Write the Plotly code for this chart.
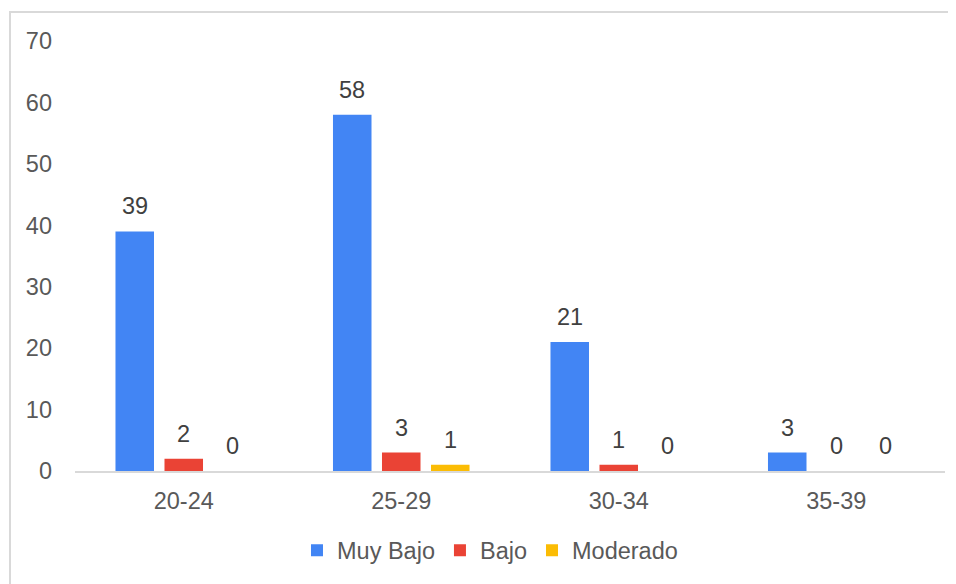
import plotly.graph_objects as go

categories = ["20-24", "25-29", "30-34", "35-39"]
muy_bajo = [39, 58, 21, 3]
bajo = [2, 3, 1, 0]
moderado = [0, 1, 0, 0]
series_names = ["Muy Bajo", "Bajo", "Moderado"]
colors = ["#4285F4", "#EA4335", "#FBBC04"]
y_ticks = [0, 10, 20, 30, 40, 50, 60, 70]

FONT = "Liberation Sans, Arial, sans-serif"
TXT = "#595959"
FS = 23.5

fig = go.Figure()
all_series = [muy_bajo, bajo, moderado]
for name, vals, col in zip(series_names, all_series, colors):
    fig.add_trace(go.Bar(name=name, x=categories, y=vals, marker_color=col,
                         marker_line_width=0))

# value labels above bars
offsets = [-49, 0, 49]
for vals, dx in zip(all_series, offsets):
    for c, v in zip(categories, vals):
        fig.add_annotation(x=c, y=v, text=str(v), showarrow=False,
                           xshift=dx, yshift=25, yanchor="middle",
                           font=dict(family=FONT, size=FS, color="#404040"))

# outer border
fig.add_shape(type="rect", xref="paper", yref="paper",
              x0=-0.0747, x1=1.2, y0=-0.4, y1=1.0674,
              line=dict(color="#d9d9d9", width=2), layer="below")

fig.update_layout(
    width=948, height=576,
    margin=dict(l=67, r=11, t=33, b=113),
    paper_bgcolor="white", plot_bgcolor="white",
    barmode="group", bargap=0.324, bargroupgap=0.214,
    font=dict(family=FONT, size=FS, color=TXT),
    showlegend=True,
    legend=dict(orientation="h", x=0.477, xanchor="center", y=-0.185,
                yanchor="middle", font=dict(family=FONT, size=FS, color=TXT),
                itemwidth=30, traceorder="normal"),
)
fig.update_xaxes(showline=True, linecolor="#d9d9d9", linewidth=2,
                 showgrid=False, ticks="", tickfont=dict(size=FS, color=TXT),
                 ticklabelstandoff=8)
fig.update_yaxes(range=[0, 70], tickvals=y_ticks, showgrid=False,
                 zeroline=False, showline=False, ticks="",
                 tickfont=dict(size=FS, color=TXT), ticklabelstandoff=22)

fig.write_html("out.html")
